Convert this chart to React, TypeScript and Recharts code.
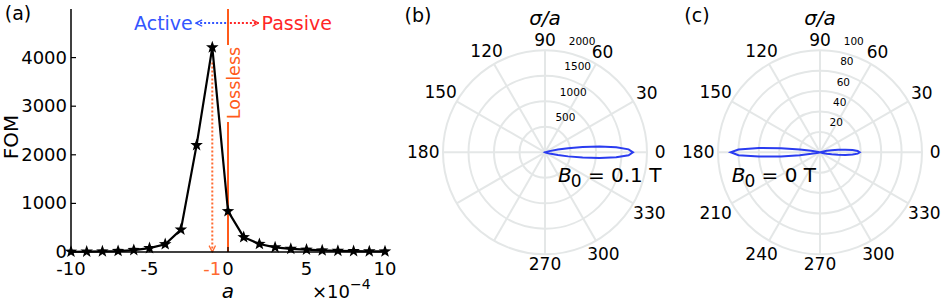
import React from 'react';
import {
  LineChart,
  Line,
  XAxis,
  YAxis,
  ReferenceLine,
  RadarChart,
  Radar,
  PolarGrid,
  PolarAngleAxis,
  PolarRadiusAxis,
} from 'recharts';

const FONT = '"DejaVu Sans", sans-serif';
const ORANGE = '#ff5a1a';
const DASH_ORANGE = '#ff6a30';
const BLUE_TXT = '#3355ff';
const RED_TXT = '#ff2626';
const LOBE_BLUE = '#2a3cf0';
const GRID = '#e4e7e7';

// ---------- Panel (a) data ----------
const alphaValues = [-10, -9, -8, -7, -6, -5, -4, -3, -2, -1, 0, 1, 2, 3, 4, 5, 6, 7, 8, 9, 10];
const fomValues = [5, 8, 12, 20, 40, 80, 160, 460, 2200, 4210, 840, 305, 165, 95, 65, 48, 32, 24, 18, 14, 11];
const alphaTicks = [-10, -5, -1, 0, 5, 10];
const frameTicksX = [-10, -5, 0, 5, 10];
const fomTicks = [0, 1000, 2000, 3000, 4000];

// ---------- Polar data (angle in degrees) ----------
const angleDeg = [
  0, 2, 4, 6, 8, 10, 12, 15, 20, 25, 30,
  60, 90, 120, 150,
  155, 160, 165, 168, 170, 172, 174, 176, 178,
  180,
  182, 184, 186, 188, 190, 192, 195, 200, 205,
  210, 240, 270, 300, 330,
  335, 340, 345, 348, 350, 352, 354, 356, 358,
];
const sigmaB01 = [
  1725, 1640, 1400, 1075, 745, 460, 260, 90, 10, 2, 0,
  0, 0, 0, 0,
  0, 0, 0, 0, 0, 0, 0, 0, 0,
  0,
  0, 0, 0, 0, 0, 0, 0, 0, 0,
  0, 0, 0, 0, 0,
  2, 10, 90, 260, 460, 745, 1075, 1400, 1640,
];
const sigmaB00 = [
  39, 37, 32, 25, 18, 11.6, 6.8, 2.5, 0.3, 0, 0,
  0, 0, 0, 0,
  0, 0.1, 0.5, 3.2, 8.7, 20, 38.5, 60, 80,
  87.5,
  80, 60, 38.5, 20, 8.7, 3.2, 0.5, 0.1, 0,
  0, 0, 0, 0, 0,
  0, 0.3, 2.5, 6.8, 11.6, 18, 25, 32, 37,
];
const angleTicks = [0, 30, 60, 90, 120, 150, 180, 210, 240, 270, 300, 330];
const radiusDomainB = [0, 2000];
const radiusDomainC = [0, 100];

// ---------- helpers ----------
const StarDot = (props: any) => {
  const { cx, cy, index } = props;
  if (cx == null || cy == null) return <g key={index} />;
  const pts: string[] = [];
  for (let i = 0; i < 10; i++) {
    const r = i % 2 === 0 ? 6.6 : 2.7;
    const a = -Math.PI / 2 + (i * Math.PI) / 5;
    pts.push(`${cx + r * Math.cos(a)},${cy + r * Math.sin(a)}`);
  }
  return <polygon key={index} points={pts.join(' ')} fill="#000" />;
};

const BottomTick = (props: any) => {
  const { x, y, payload } = props;
  const v = payload.value;
  const special = v === -1;
  return (
    <g>
      {!special && <line x1={x} y1={y} x2={x} y2={y - 5} stroke="#000" strokeWidth={1.2} />}
      <text x={x} y={y + 16.5} textAnchor="middle" dominantBaseline="central" fontSize={18} fontFamily={FONT} fill={special ? DASH_ORANGE : '#000'}>
        {String(v)}
      </text>
    </g>
  );
};
const TopTick = (props: any) => {
  const { x, y } = props;
  return <line x1={x} y1={y} x2={x} y2={y + 5} stroke="#000" strokeWidth={1.2} />;
};
const LeftTick = (props: any) => {
  const { x, y, payload } = props;
  return (
    <g>
      <line x1={x} y1={y} x2={x + 5} y2={y} stroke="#000" strokeWidth={1.2} />
      <text x={x - 4} y={y - 0.5} textAnchor="end" dominantBaseline="central" fontSize={18} fontFamily={FONT} fill="#000">
        {String(payload.value)}
      </text>
    </g>
  );
};
const RightTick = (props: any) => {
  const { x, y } = props;
  return <line x1={x} y1={y} x2={x - 5} y2={y} stroke="#000" strokeWidth={1.2} />;
};

const LosslessLabel = (props: any) => {
  const vb = props.viewBox || {};
  const x = vb.x;
  const top = vb.y;
  const tx = x + 5.5;
  const ty = top + 74;
  return (
    <g>
      <rect x={x - 2} y={top + 36} width={15} height={77} fill="#fff" />
      <text x={tx} y={ty} transform={`rotate(-90, ${tx}, ${ty})`} textAnchor="middle" dominantBaseline="central" fontSize={17.5} fontFamily={FONT} fill={ORANGE}>
        Lossless
      </text>
    </g>
  );
};

const makeAngleTick = (skip: number[]) => (props: any) => {
  const { x, y, payload } = props;
  const v = Number(payload.value);
  if (v >= 360 || skip.includes(v)) return <g />;
  const s = String(v);
  const w = s.length * 0.636 * 17;
  const rad = (v * Math.PI) / 180;
  const extra = 0.3 * w * Math.abs(Math.cos(rad));
  return (
    <text x={x + extra * Math.cos(rad)} y={y - extra * Math.sin(rad)} textAnchor="middle" dominantBaseline="central" fontSize={17} fontFamily={FONT} fill="#000">
      {s}
    </text>
  );
};

const RadiusTick = (props: any) => {
  const { x, y, payload } = props;
  if (Number(payload.value) === 0) return <g />;
  return (
    <text x={x + 6} y={y - 10.5} textAnchor="start" dominantBaseline="central" fontSize={10.5} fontFamily={FONT} fill="#000">
      {String(payload.value)}
    </text>
  );
};

const Marker = ({ id, color }: { id: string; color: string }) => (
  <marker id={id} viewBox="0 0 10 10" refX={9} refY={5} markerWidth={8} markerHeight={8} markerUnits="userSpaceOnUse" orient="auto">
    <path d="M1,1 L9,5 L1,9" fill="none" stroke={color} strokeWidth={1.6} strokeDasharray="none" />
  </marker>
);

const PolarPanel = ({
  data,
  domain,
  tickCount,
  skip,
  tag,
  bValue,
}: {
  data: { angle: number; r: number }[];
  domain: number[];
  tickCount: number;
  skip: number[];
  tag: string;
  bValue: string;
}) => (
  <RadarChart width={270} height={302} cx={145} cy={152.3} outerRadius={102} innerRadius={0} startAngle={0} endAngle={360} data={data} margin={{ top: 0, right: 0, bottom: 0, left: 0 }}>
    <PolarGrid gridType="circle" stroke={GRID} strokeWidth={2} polarAngles={angleTicks} />
    <PolarAngleAxis
      dataKey="angle"
      type="number"
      domain={[0, 360]}
      ticks={angleTicks as any}
      tickCount={13}
      tickLine={false}
      axisLine={false}
      tickSize={10}
      tick={makeAngleTick(skip)}
    />
    <PolarRadiusAxis angle={80} type="number" domain={domain as any} tickCount={tickCount} axisLine={false} tick={RadiusTick} />
    <Radar dataKey="r" stroke={LOBE_BLUE} strokeWidth={2} fill="none" fillOpacity={0} dot={false} isAnimationActive={false} />
    <text x={tag === '(b)' ? 18 : 22} y={15} textAnchor="middle" dominantBaseline="central" fontSize={19} fontFamily={FONT} fill="#000">
      {tag}
    </text>
    <text x={145} y={25} textAnchor="middle" fontSize={20} fontStyle="italic" fontFamily={FONT} fill="#000">
      σ/a
    </text>
    <text x={tag === '(b)' ? 158 : 56.7} y={181.5} fontSize={20} fontFamily={FONT} fill="#000">
      <tspan fontStyle="italic">B</tspan>
      <tspan fontSize={17} dy={5} dx={-1}>0</tspan>
      <tspan dy={-5}>{` = ${bValue} T`}</tspan>
    </text>
  </RadarChart>
);

export default function App() {
  const lineData = alphaValues.map((a, i) => ({ alpha: a, fom: fomValues[i] }));
  const dataB = angleDeg.map((a, i) => ({ angle: a, r: sigmaB01[i] }));
  const dataC = angleDeg.map((a, i) => ({ angle: a, r: sigmaB00[i] }));
  const axisLineStyle = { stroke: '#000', strokeWidth: 1.5 };

  return (
    <div style={{ position: 'absolute', left: 0, top: 0, width: 945, height: 302, background: '#fff', fontFamily: FONT }}>
      <div style={{ position: 'absolute', left: 0, top: 0 }}>
        <LineChart width={400} height={302} data={lineData} margin={{ top: 9, right: 15, bottom: 0, left: 0 }}>
          <defs>
            <Marker id="arrowBlue" color={BLUE_TXT} />
            <Marker id="arrowRed" color={RED_TXT} />
            <Marker id="arrowOrange" color={DASH_ORANGE} />
          </defs>
          <XAxis
            dataKey="alpha"
            type="number"
            domain={[-10, 10]}
            ticks={alphaTicks}
            interval={0}
            height={50}
            tickSize={0}
            tickMargin={0}
            tickLine={false}
            axisLine={axisLineStyle}
            tick={BottomTick}
          />
          <XAxis
            xAxisId="top"
            orientation="top"
            dataKey="alpha"
            type="number"
            domain={[-10, 10]}
            ticks={frameTicksX}
            interval={0}
            height={0}
            tickSize={0}
            tickMargin={0}
            tickLine={false}
            axisLine={axisLineStyle}
            tick={TopTick}
          />
          <YAxis
            type="number"
            domain={[0, 5000]}
            ticks={fomTicks}
            interval={0}
            width={71}
            tickSize={0}
            tickMargin={0}
            tickLine={false}
            axisLine={axisLineStyle}
            tick={LeftTick}
          />
          <YAxis
            yAxisId="right"
            orientation="right"
            type="number"
            domain={[0, 5000]}
            ticks={fomTicks}
            interval={0}
            width={0}
            tickSize={0}
            tickMargin={0}
            tickLine={false}
            axisLine={axisLineStyle}
            tick={RightTick}
          />
          <ReferenceLine x={0} stroke={ORANGE} strokeWidth={2} label={LosslessLabel} />
          <ReferenceLine
            segment={[{ x: -1, y: 3900 }, { x: -1, y: 0 }]}
            stroke={DASH_ORANGE}
            strokeWidth={2}
            strokeDasharray="2 2"
            markerEnd="url(#arrowOrange)"
          />
          <ReferenceLine
            segment={[{ x: -0.12, y: 4710 }, { x: -2.05, y: 4710 }]}
            stroke={BLUE_TXT}
            strokeWidth={2}
            strokeDasharray="2 2"
            markerEnd="url(#arrowBlue)"
            label={{ value: 'Active', position: 'left', offset: 3, fill: BLUE_TXT, fontSize: 19, fontFamily: FONT }}
          />
          <ReferenceLine
            segment={[{ x: 0.12, y: 4710 }, { x: 1.95, y: 4710 }]}
            stroke={RED_TXT}
            strokeWidth={2}
            strokeDasharray="2 2"
            markerEnd="url(#arrowRed)"
            label={{ value: 'Passive', position: 'right', offset: 3, fill: RED_TXT, fontSize: 19, fontFamily: FONT }}
          />
          <Line type="linear" dataKey="fom" stroke="#000" strokeWidth={2.2} dot={StarDot} activeDot={false} isAnimationActive={false} />
          <text x={18} y={13} textAnchor="middle" dominantBaseline="central" fontSize={19} fontFamily={FONT} fill="#000">
            (a)
          </text>
          <text x={11} y={137} transform="rotate(-90, 11, 137)" textAnchor="middle" dominantBaseline="central" fontSize={20} fontFamily={FONT} fill="#000">
            FOM
          </text>
          <text x={228} y={298} textAnchor="middle" fontSize={20} fontStyle="italic" fontFamily={FONT} fill="#000">
            a
          </text>
          <text x={312} y={298} fontSize={18} fontFamily={FONT} fill="#000">
            ×10
            <tspan fontSize={14} dy={-9}>−4</tspan>
          </text>
        </LineChart>
      </div>
      <div style={{ position: 'absolute', left: 400, top: 0 }}>
        <PolarPanel data={dataB} domain={radiusDomainB} tickCount={5} skip={[210, 240]} tag="(b)" bValue="0.1" />
      </div>
      <div style={{ position: 'absolute', left: 675, top: 0 }}>
        <PolarPanel data={dataC} domain={radiusDomainC} tickCount={6} skip={[]} tag="(c)" bValue="0" />
      </div>
    </div>
  );
}
